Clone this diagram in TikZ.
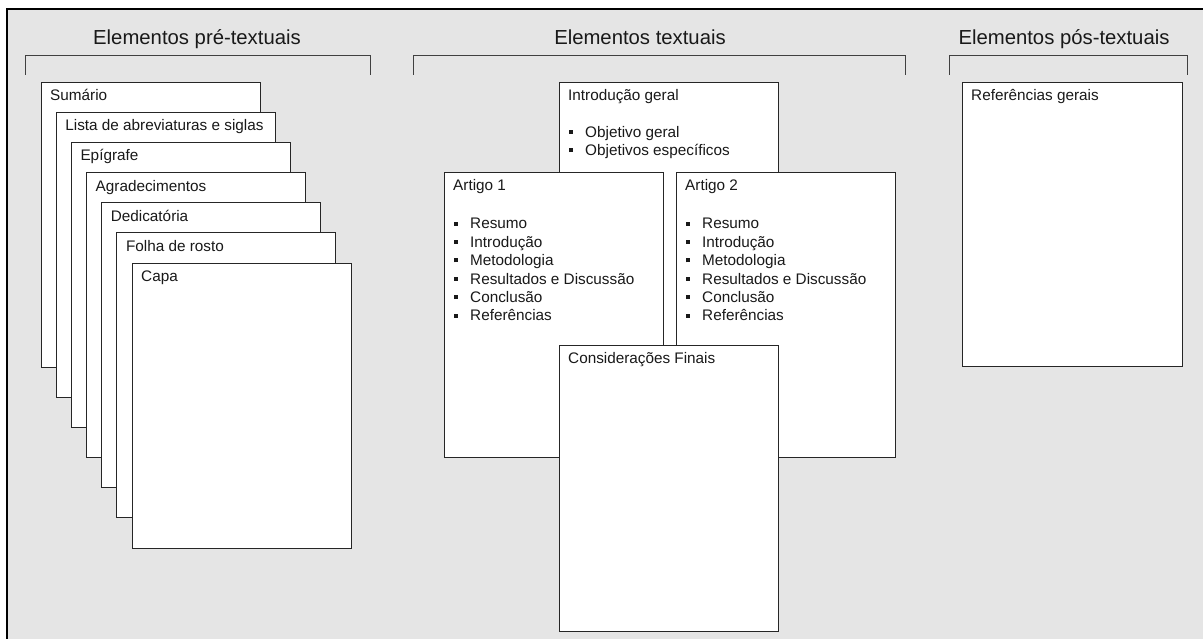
\documentclass[tikz,border=0pt]{standalone}
\usepackage{fontspec}
\setmainfont{Liberation Sans}
\usepackage{tikz}
\definecolor{fundo}{HTML}{E5E5E5}
\newcommand{\bul}{\makebox[16pt][l]{\rule[3.3pt]{4pt}{4pt}}}

\begin{document}
\begin{tikzpicture}[x=1pt,y=-1pt,
	folha/.style={draw=black!85,line width=0.9pt,fill=white,minimum width=219pt,minimum height=285pt,inner sep=0pt,outer sep=0pt,anchor=north west},
	texto/.style={anchor=base west,inner sep=0pt,text=black!90,font=\fontsize{15.3}{18}\selectfont},
	parte/.style={anchor=base,inner sep=0pt,text=black!90,font=\fontsize{20.3}{24}\selectfont},
	chave/.style={draw=black!75,line width=0.9pt}]
	\useasboundingbox (0,0) rectangle (1203,639);
	\clip (0,0) rectangle (1203,639);
	\fill [fundo] (7,9) rectangle (1215,650);
	\draw [line width=1.2pt] (7,650) -- (7,9) -- (1215,9);
	\node[parte] (pre) at (197,45) {Elementos pré-textuais};
	\node[parte] (tex) at (640,45) {Elementos textuais};
	\node[parte] (pos) at (1064,45) {Elementos pós-textuais};
	\coordinate (preA) at (25,75);
	\coordinate (preB) at (370,75);
	\coordinate (texA) at (413,75);
	\coordinate (texB) at (905,75);
	\coordinate (posA) at (949,75);
	\coordinate (posB) at (1187,75);
	\draw [chave] (preA) -- ++(0,-20) -| (preB);
	\draw [chave] (texA) -- ++(0,-20) -| (texB);
	\draw [chave] (posA) -- ++(0,-20) -| (posB);
	\foreach \t [count=\i from 0] in {Sumário,Lista de abreviaturas e siglas,Epígrafe,Agradecimentos,Dedicatória,Folha de rosto,Capa} {
		\node[folha] (pre\i) at (41+15.17*\i,82+30.17*\i) {};
		\node[texto] at ([shift={(9,18.5)}]pre\i.north west) {\t};
	}
	\node[folha] (intro) at (559,82) {};
	\node[texto] at ([shift={(9,18.5)}]intro.north west) {Introdução geral};
	\foreach \t [count=\i] in {Objetivo geral,Objetivos específicos}
		\node[texto] at ([shift={(10,37+18.2*\i)}]intro.north west) {\bul\t};
	\foreach \a/\x in {1/444,2/676} {
		\node[folha] (art\a) at (\x,172) {};
		\node[texto] at ([shift={(9,18.8)}]art\a.north west) {Artigo \a};
		\foreach \t [count=\i] in {Resumo,Introdução,Metodologia,Resultados e Discussão,Conclusão,Referências}
			\node[texto] at ([shift={(10,38.5+18.4*\i)}]art\a.north west) {\bul\t};
	}
	\node[folha,minimum height=286pt] (final) at (559,345) {};
	\node[texto] at ([shift={(9,18.5)}]final.north west) {Considerações Finais};
	\node[folha,minimum width=220pt,minimum height=284pt] (refs) at (962,82) {};
	\node[texto] at ([shift={(9,18.5)}]refs.north west) {Referências gerais};
\end{tikzpicture}
\end{document}
